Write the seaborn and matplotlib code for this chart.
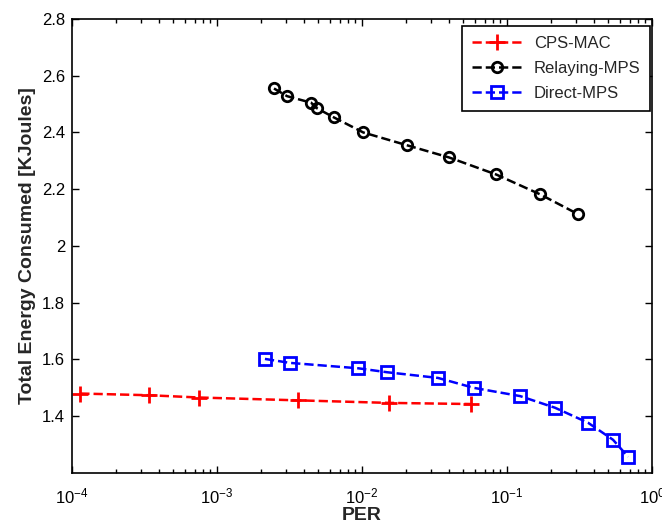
import numpy as np
import pandas as pd
import seaborn as sns
import matplotlib
matplotlib.use("Agg")
import matplotlib.pyplot as plt
from matplotlib.ticker import LogLocator, NullFormatter

# data
cps_per = [1.14e-4, 3.4e-4, 7.5e-4, 3.6e-3, 1.53e-2, 5.6e-2]
cps_energy = [1.480, 1.474, 1.466, 1.456, 1.447, 1.443]

relay_per = [2.47e-3, 3.04e-3, 4.45e-3, 4.9e-3, 6.4e-3, 1.02e-2,
             2.04e-2, 3.98e-2, 8.4e-2, 0.169, 0.309]
relay_energy = [2.555, 2.528, 2.505, 2.485, 2.453, 2.400,
                2.355, 2.312, 2.252, 2.182, 2.112]

direct_per = [2.14e-3, 3.18e-3, 9.4e-3, 1.49e-2, 3.34e-2, 5.9e-2,
              0.123, 0.214, 0.362, 0.538, 0.683]
direct_energy = [1.602, 1.588, 1.569, 1.555, 1.535, 1.500,
                 1.471, 1.430, 1.377, 1.317, 1.257]

sns.set_style("ticks")
plt.rcParams['font.family'] = ['Liberation Sans', 'DejaVu Sans']
plt.rcParams['mathtext.fontset'] = 'custom'
plt.rcParams['mathtext.rm'] = 'Liberation Sans'

fig = plt.figure(figsize=(6.62, 5.27), dpi=100)
ax = fig.add_axes([0.1088, 0.1025, 0.8762, 0.8615])

sns.lineplot(x=cps_per, y=cps_energy, ax=ax, color='red', linestyle='--',
             linewidth=1.8, marker='+', markersize=11, markeredgewidth=2,
             markeredgecolor='red', label='CPS-MAC')
sns.lineplot(x=relay_per, y=relay_energy, ax=ax, color='black', linestyle='--',
             linewidth=1.8, marker='o', markersize=7.5, markerfacecolor='none',
             markeredgecolor='black', markeredgewidth=2, label='Relaying-MPS')
sns.lineplot(x=direct_per, y=direct_energy, ax=ax, color='blue', linestyle='--',
             linewidth=1.8, marker='s', markersize=8, markerfacecolor='none',
             markeredgecolor='blue', markeredgewidth=2, label='Direct-MPS')

ax.set_xscale('log')
ax.set_xlim(1e-4, 1e0)
ax.set_ylim(1.2, 2.8)
ax.set_yticks([1.4, 1.6, 1.8, 2.0, 2.2, 2.4, 2.6, 2.8])
ax.set_yticklabels(['1.4', '1.6', '1.8', '2', '2.2', '2.4', '2.6', '2.8'])
ax.xaxis.set_minor_locator(LogLocator(base=10, subs=np.arange(2, 10)))
ax.xaxis.set_minor_formatter(NullFormatter())

ax.tick_params(which='both', direction='in', top=True, right=True,
               labelsize=12, colors='black')
ax.tick_params(which='major', length=5, width=1)
ax.tick_params(which='minor', length=3, width=1)
ax.tick_params(axis='x', which='major', pad=10)
ax.tick_params(axis='y', which='major', pad=5)
for s in ax.spines.values():
    s.set_linewidth(1.2)
    s.set_color('black')

ax.set_xlabel('PER', fontsize=14, fontweight='bold', labelpad=0)
ax.set_ylabel('Total Energy Consumed [KJoules]', fontsize=14, fontweight='bold',
              labelpad=4)

leg = ax.legend(loc='upper right', bbox_to_anchor=(0.997, 0.985),
                borderaxespad=0, fontsize=12, frameon=True, fancybox=False,
                edgecolor='black', framealpha=1, handlelength=3.0,
                labelspacing=0.6, borderpad=0.6, handletextpad=0.7)
leg.get_frame().set_linewidth(1.2)

fig.savefig('out.png', dpi=100)
